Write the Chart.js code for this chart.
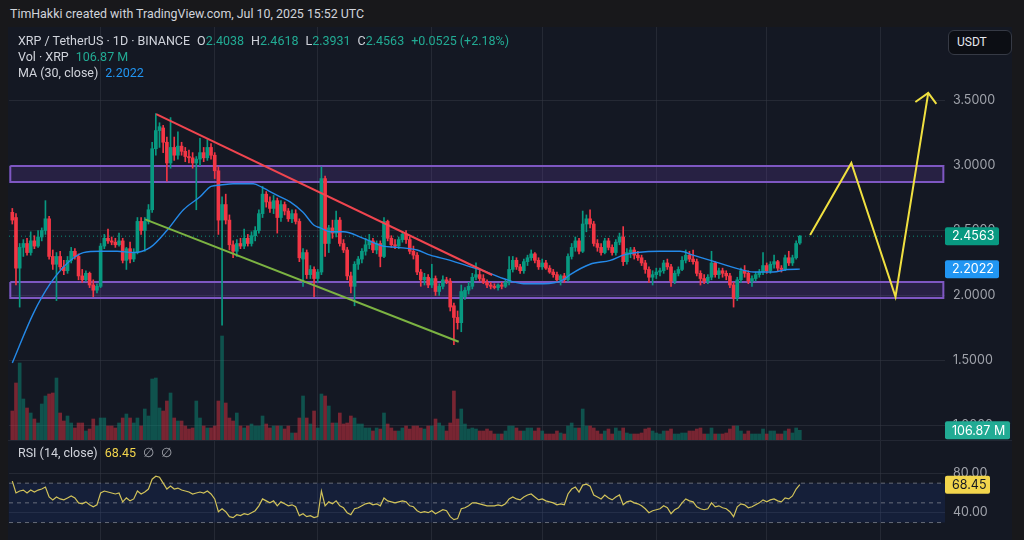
<!DOCTYPE html>
<html><head><meta charset="utf-8">
<script src="https://cdn.jsdelivr.net/npm/chart.js@4.4.1/dist/chart.umd.min.js"></script>
<style>
html,body{margin:0;padding:0;background:#18181b;width:1024px;height:540px;overflow:hidden;font-family:Roboto,'Noto Sans',sans-serif;}
#title{position:absolute;left:10px;top:6px;font-size:12.4px;color:#d1d4dc;white-space:pre;}
#frame{position:absolute;left:8px;top:27px;width:1004px;height:513px;background:#141823;}
#pc{position:absolute;left:8px;top:27px;}
#rc{position:absolute;left:8px;top:441px;}
#sep{position:absolute;left:8px;top:440px;width:1004px;height:1px;background:#232733;}
.leg{position:absolute;left:18px;font-size:12.5px;color:#d1d4dc;white-space:pre;line-height:16px;}
.g{color:#22ab94;}
.b{color:#2196f3;}
.y{color:#f2d54c;}
.sp{margin-left:7px;}
#usdt{position:absolute;left:948px;top:30px;width:54px;height:23px;border:1px solid #363a45;border-radius:6px;background:#0c0e14;color:#e6e8ee;font-size:12px;line-height:23px;padding-left:8px;}
</style>
</head><body>
<div id="title">TimHakki created with TradingView.com, Jul 10, 2025 15:52 UTC</div>
<div id="frame"></div>
<canvas id="pc" width="1004" height="414"></canvas>
<canvas id="rc" width="1004" height="99"></canvas>
<div id="sep"></div>
<div class="leg" id="l1" style="top:33px"></div>
<div class="leg" id="l2" style="top:49px"></div>
<div class="leg" id="l3" style="top:65px"></div>
<div class="leg" id="l4" style="top:445px"></div>
<div id="usdt">USDT</div>
<script>
// ---------- DATA ----------
const opens = [2.64,2.60,2.21,2.37,2.40,2.33,2.42,2.38,2.45,2.50,
2.59,2.30,2.24,2.30,2.22,2.19,2.27,2.34,2.30,2.15,
2.12,2.17,2.08,2.04,2.07,2.38,2.44,2.42,2.41,2.39,
2.42,2.27,2.36,2.28,2.33,2.57,2.50,2.57,2.66,3.13,
3.27,3.29,3.18,3.02,3.14,3.08,3.15,3.11,3.07,3.06,
3.02,3.05,3.10,3.06,3.14,3.08,2.96,2.58,2.70,2.58,
2.39,2.34,2.40,2.38,2.44,2.40,2.46,2.50,2.63,2.78,
2.72,2.67,2.73,2.60,2.70,2.65,2.59,2.63,2.57,2.28,
2.33,2.16,2.20,2.13,2.18,2.90,2.40,2.52,2.48,2.58,
2.40,2.35,2.15,2.07,2.24,2.28,2.34,2.39,2.42,2.35,
2.40,2.30,2.57,2.44,2.39,2.38,2.43,2.47,2.43,2.34,
2.31,2.18,2.12,2.14,2.08,2.13,2.03,2.07,2.12,2.11,
1.92,1.83,1.79,1.99,2.04,2.07,2.14,2.16,2.13,2.10,
2.08,2.07,2.06,2.08,2.07,2.10,2.20,2.27,2.22,2.19,
2.26,2.29,2.32,2.27,2.22,2.25,2.21,2.18,2.16,2.12,
2.15,2.12,2.30,2.37,2.42,2.34,2.55,2.59,2.55,2.40,
2.37,2.33,2.42,2.37,2.33,2.41,2.45,2.26,2.33,2.35,
2.31,2.29,2.25,2.20,2.14,2.16,2.18,2.19,2.25,2.22,
2.11,2.17,2.20,2.27,2.31,2.28,2.26,2.17,2.13,2.11,
2.14,2.25,2.16,2.19,2.17,2.15,2.08,1.98,2.12,2.19,
2.17,2.11,2.13,2.16,2.18,2.23,2.19,2.24,2.26,2.21,
2.20,2.29,2.25,2.29,2.4038];
const highs = [2.67,2.63,2.40,2.43,2.44,2.49,2.46,2.50,2.52,2.73,
2.61,2.35,2.33,2.34,2.27,2.30,2.37,2.36,2.32,2.20,
2.19,2.18,2.12,2.09,2.40,2.47,2.51,2.45,2.44,2.48,
2.44,2.37,2.41,2.36,2.60,2.60,2.60,2.70,3.18,3.40,
3.33,3.31,3.22,3.37,3.22,3.26,3.18,3.14,3.12,3.10,
3.07,3.21,3.14,3.20,3.17,3.10,2.99,2.76,2.78,2.62,
2.42,2.43,2.44,2.51,2.47,2.49,2.53,2.66,2.84,2.80,
2.76,2.77,2.75,2.73,2.72,2.67,2.66,2.66,2.59,2.36,
2.35,2.23,2.22,2.20,2.99,2.92,2.54,2.58,2.65,2.60,
2.43,2.37,2.18,2.26,2.30,2.36,2.44,2.47,2.44,2.42,
2.42,2.60,2.58,2.46,2.43,2.45,2.49,2.50,2.45,2.38,
2.33,2.20,2.17,2.16,2.24,2.15,2.09,2.15,2.14,2.13,
1.94,1.88,2.08,2.06,2.10,2.17,2.25,2.20,2.16,2.12,
2.10,2.09,2.09,2.10,2.12,2.30,2.30,2.29,2.24,2.28,
2.31,2.35,2.33,2.29,2.28,2.27,2.23,2.20,2.18,2.16,
2.17,2.32,2.40,2.45,2.44,2.65,2.62,2.66,2.57,2.43,
2.40,2.44,2.44,2.39,2.43,2.48,2.53,2.36,2.37,2.37,
2.34,2.31,2.27,2.22,2.19,2.21,2.21,2.27,2.28,2.24,
2.19,2.22,2.30,2.35,2.34,2.35,2.28,2.19,2.16,2.16,
2.34,2.26,2.21,2.21,2.19,2.17,2.10,2.14,2.21,2.23,
2.19,2.15,2.18,2.20,2.33,2.25,2.26,2.31,2.27,2.23,
2.31,2.34,2.31,2.42,2.4618];
const lows = [2.55,2.08,1.91,2.30,2.31,2.31,2.36,2.37,2.42,2.47,
2.28,2.20,1.96,2.20,2.16,2.17,2.25,2.28,2.12,2.10,
2.11,2.06,1.99,2.02,2.06,2.36,2.40,2.39,2.37,2.38,
2.25,2.20,2.25,2.26,2.32,2.47,2.34,2.55,2.64,3.08,
3.14,3.10,2.88,2.98,3.04,3.05,3.08,3.03,3.02,2.98,
2.66,3.00,3.03,3.04,3.05,2.90,2.47,1.77,2.55,2.35,
2.29,2.30,2.36,2.36,2.38,2.38,2.42,2.48,2.60,2.68,
2.64,2.63,2.48,2.57,2.62,2.57,2.56,2.55,2.26,2.07,
2.13,2.13,1.99,2.10,2.16,2.30,2.33,2.44,2.45,2.38,
2.33,2.12,2.02,1.92,2.20,2.25,2.31,2.36,2.33,2.32,
2.22,2.29,2.42,2.37,2.36,2.36,2.41,2.40,2.32,2.28,
2.16,2.07,2.08,2.06,2.06,2.00,2.00,2.05,2.09,1.88,
1.62,1.74,1.72,1.97,2.01,2.05,2.12,2.11,2.09,2.06,
2.05,2.05,2.04,2.05,2.06,2.08,2.18,2.20,2.17,2.17,
2.23,2.27,2.25,2.20,2.20,2.20,2.17,2.14,2.10,2.08,
2.10,2.11,2.28,2.34,2.32,2.33,2.49,2.52,2.38,2.34,
2.31,2.32,2.35,2.31,2.31,2.39,2.23,2.24,2.29,2.28,
2.27,2.23,2.17,2.10,2.08,2.13,2.15,2.17,2.20,2.07,
2.09,2.15,2.19,2.25,2.26,2.24,2.15,2.08,2.09,2.09,
2.12,2.14,2.13,2.14,2.12,2.06,1.91,1.96,2.10,2.14,
2.09,2.07,2.11,2.14,2.16,2.17,2.17,2.21,2.19,2.18,
2.19,2.23,2.23,2.28,2.3931];
const closes = [2.58,2.21,2.37,2.40,2.33,2.42,2.38,2.45,2.50,2.59,
2.30,2.24,2.30,2.22,2.19,2.27,2.34,2.30,2.15,2.12,
2.17,2.08,2.04,2.07,2.38,2.44,2.42,2.41,2.39,2.42,
2.27,2.36,2.28,2.33,2.57,2.50,2.57,2.66,3.13,3.27,
3.30,3.18,3.02,3.14,3.08,3.15,3.11,3.07,3.06,3.02,
3.05,3.10,3.06,3.14,3.08,2.96,2.58,2.70,2.58,2.39,
2.34,2.40,2.38,2.44,2.40,2.46,2.50,2.63,2.78,2.72,
2.67,2.73,2.60,2.70,2.65,2.59,2.63,2.57,2.29,2.33,
2.16,2.20,2.13,2.18,2.90,2.40,2.52,2.48,2.58,2.40,
2.35,2.15,2.07,2.24,2.28,2.34,2.39,2.42,2.35,2.40,
2.30,2.57,2.44,2.39,2.38,2.43,2.47,2.43,2.34,2.31,
2.18,2.12,2.14,2.08,2.13,2.03,2.07,2.12,2.11,1.91,
1.83,1.79,2.03,2.04,2.07,2.14,2.16,2.13,2.10,2.08,
2.07,2.06,2.08,2.07,2.10,2.20,2.27,2.22,2.19,2.26,
2.29,2.32,2.27,2.22,2.25,2.21,2.18,2.16,2.12,2.15,
2.12,2.30,2.37,2.42,2.34,2.55,2.59,2.55,2.40,2.37,
2.33,2.42,2.37,2.33,2.41,2.45,2.26,2.33,2.35,2.31,
2.29,2.25,2.20,2.14,2.16,2.18,2.19,2.25,2.22,2.11,
2.17,2.20,2.27,2.31,2.28,2.26,2.17,2.13,2.11,2.14,
2.25,2.16,2.19,2.17,2.15,2.08,1.98,2.12,2.19,2.17,
2.11,2.13,2.16,2.18,2.23,2.19,2.24,2.26,2.21,2.20,
2.29,2.25,2.29,2.40,2.4563];
// volume in millions of XRP
const volumes = [300,580,780,420,330,280,220,180,370,450,
470,480,630,280,200,250,180,130,180,180,
100,120,220,150,230,230,150,150,130,180,
230,270,230,180,230,150,320,250,620,630,
330,300,400,480,230,200,200,150,120,130,
400,230,150,130,130,150,400,1050,380,230,
200,280,150,130,150,170,150,150,250,170,
130,150,150,150,120,150,80,80,230,450,
230,170,300,130,470,450,350,180,180,280,
170,180,250,230,170,170,130,130,100,130,
120,280,170,130,100,100,130,150,120,150,
150,130,120,150,150,220,180,150,100,180,
500,220,320,170,120,130,120,100,100,120,
100,70,70,70,100,150,150,130,100,100,
130,130,100,130,100,70,70,70,100,80,
70,150,180,130,130,320,150,150,130,100,
70,100,120,70,130,100,130,80,70,70,
70,80,120,130,100,80,70,100,100,120,
70,70,80,80,100,100,120,130,70,70,
130,70,70,70,80,120,150,150,100,70,
100,70,70,70,120,70,100,100,70,70,
100,120,80,130,106.87];
const rsi = [72,60,62,63,60,63,61,63,64,66,
56,53,56,54,53,55,57,55,50,49,
51,48,46,48,60,62,61,60,59,60,
51,55,52,54,62,59,61,64,74,77,
76,70,64,67,64,65,63,62,61,59,
60,61,60,62,59,54,41,44,41,36,
35,38,37,39,38,40,42,47,54,52,
50,52,47,51,49,47,48,46,37,39,
36,37,35,36,62,47,51,49,52,47,
45,40,38,44,45,47,49,50,48,49,
47,55,52,51,50,51,52,51,47,46,
42,40,41,40,42,39,41,43,42,36,
33,34,44,45,47,50,50,49,48,47,
47,47,48,47,49,54,56,54,53,56,
58,59,56,53,54,52,51,50,48,49,
48,59,64,66,61,68,69,67,58,56,
54,58,55,53,56,58,48,51,52,50,
49,47,44,40,42,43,44,47,45,39,
43,45,50,54,52,51,46,44,43,44,
50,46,47,45,44,41,36,46,49,48,
45,46,48,50,53,51,53,54,52,51,
55,54,57,64,68.45];
// MA(30, close) read at candle positions
const maIdx = [0,5.7,10.3,15,19.3,24,28.5,33,37.5,42,46.5,51,54,56.5,60,65.5,68,72,75.5,79,82,83.7,86.4,90,95.4,100.8,104.6,110,113.6,119,124.5,129,133.4,138.9,144.3,149.7,151.6,157,162.5,166,169.8,176,181.5,185,189.7,194.3,197.8,201.4,206.8,210.6,214];
const maVals = [1.48,1.86,2.09,2.25,2.33,2.34,2.34,2.33,2.37,2.50,2.66,2.76,2.84,2.85,2.86,2.86,2.83,2.77,2.72,2.64,2.54,2.52,2.49,2.49,2.44,2.38,2.37,2.35,2.31,2.27,2.22,2.18,2.13,2.09,2.09,2.12,2.16,2.24,2.27,2.31,2.33,2.34,2.34,2.31,2.27,2.23,2.20,2.18,2.18,2.20,2.2022];
// drawings (candle index, price)
const zoneX = [-0.55, 253.0];
const zoneUpper = [2.874, 2.997];
const zoneLower = [1.98, 2.103];
const redLineX = [39.1, 130.4], redLineY = [3.397, 2.157];
const greenLineX = [36.1, 121.3], greenLineY = [2.586, 1.643];
const projX = [216.8, 228.0, 240.0, 248.9], projY = [2.465, 3.02, 1.99, 3.56];
const arrowX = [245.4, 248.9, 251.1], arrowY = [3.49, 3.56, 3.475];
// ticks
const priceTicks = [1.0, 1.5, 2.0, 2.5, 3.0, 3.5];
const rsiTicks = [40, 80];
const rsiLevels = [70, 50, 30];
const monthStarts = [24, 55, 83, 114, 144, 175, 205, 236];
const change = 0.0525, changePct = 2.18;

// ---------- CHART ----------
Chart.defaults.font.family = 'Inter, "Noto Sans", "DejaVu Sans", sans-serif';
Chart.defaults.font.size = 12.5;
Chart.defaults.color = '#a0a3ab';
const UP = '#089981', DN = '#f23645';
const xMin = -0.9, xMax = 253.45;
const n = closes.length;
const last = n - 1;
const idx = closes.map((_, i) => i);
const isUp = idx.map(i => closes[i] >= opens[i]);
const GRID = 'rgba(54,58,69,0.5)';

const zeroPad = s => { s.paddingTop = 0; s.paddingBottom = 0; s.paddingLeft = 0; s.paddingRight = 0; };
const xAxis = {
  type: 'linear', min: xMin, max: xMax, offset: false,
  grid: { color: GRID, drawTicks: false, offset: false },
  border: { display: false },
  ticks: { display: false },
  afterBuildTicks: s => { s.ticks = monthStarts.map(v => ({ value: v })); },
  afterFit: s => { s.height = 0; zeroPad(s); }
};

function tag(ctx, x, yc, w, text, bg, fg) {
  ctx.save();
  ctx.fillStyle = bg;
  ctx.beginPath();
  if (ctx.roundRect) ctx.roundRect(x, yc - 9, w, 18, 2); else ctx.rect(x, yc - 9, w, 18);
  ctx.fill();
  ctx.fillStyle = fg;
  ctx.font = '12.5px Inter, "Noto Sans", sans-serif';
  ctx.textBaseline = 'middle';
  ctx.textAlign = 'left';
  ctx.fillText(text, x + 7, yc + 0.5);
  ctx.restore();
}

const line = (xs, ys, color, w, extra) => Object.assign({
  type: 'line', data: xs.map((x, k) => ({ x, y: ys[k] })), borderColor: color, borderWidth: w,
  pointRadius: 0, fill: false, tension: 0
}, extra || {});

const zone = z => line([zoneX[0], zoneX[1], zoneX[1], zoneX[0], zoneX[0]], [z[1], z[1], z[0], z[0], z[1]],
  '#7e57c2', 2, { fill: 'shape', backgroundColor: 'rgba(110,70,180,0.22)', borderJoinStyle: 'miter', order: 10 });

new Chart(document.getElementById('pc'), {
  type: 'bar',
  data: { datasets: [
    zone(zoneUpper),
    zone(zoneLower),
    { type: 'bar', yAxisID: 'yv', data: idx.map(i => ({ x: i, y: volumes[i] })),
      backgroundColor: idx.map(i => isUp[i] ? 'rgba(8,153,129,0.45)' : 'rgba(242,54,69,0.45)'),
      barThickness: 3, grouped: false, order: 9 },
    line([xMin, xMax], [closes[last], closes[last]], 'rgba(8,153,129,0.9)', 1, { borderDash: [1, 3], order: 8 }),
    { type: 'bar', data: idx.map(i => ({ x: i, y: [lows[i], highs[i]] })),
      backgroundColor: idx.map(i => isUp[i] ? UP : DN), barThickness: 1, grouped: false, order: 6 },
    { type: 'bar', data: idx.map(i => ({ x: i, y: [opens[i], closes[i]] })),
      backgroundColor: idx.map(i => isUp[i] ? UP : DN), barThickness: 3, minBarLength: 1, grouped: false, order: 5 },
    line(maIdx, maVals, '#2489e8', 1.4, { cubicInterpolationMode: 'monotone', order: 4 }),
    line(redLineX, redLineY, '#f0454f', 2, { order: 3 }),
    line(greenLineX, greenLineY, '#7cb342', 2, { order: 3 }),
    line(projX, projY, '#f0e040', 2, { order: 2 }),
    line(arrowX, arrowY, '#f0e040', 2, { order: 2 })
  ]},
  options: {
    responsive: false, animation: false, events: [],
    layout: { padding: { left: 1, right: 0, top: 0, bottom: 0 } },
    plugins: { legend: { display: false }, tooltip: { enabled: false } },
    scales: {
      x: xAxis,
      y: {
        position: 'right', min: 0.8783, max: 4.0678,
        grid: { color: GRID, drawTicks: false },
        border: { display: false },
        ticks: { padding: 8, color: '#a0a3ab', callback: v => Number(v).toFixed(4) },
        afterBuildTicks: s => { s.ticks = priceTicks.map(v => ({ value: v })); },
        afterFit: s => { s.width = 67; zeroPad(s); }
      },
      yv: { display: false, min: 0, max: 4140 }
    }
  },
  plugins: [{
    id: 'tags',
    afterDraw(c) {
      const y = c.scales.y, yv = c.scales.yv, ctx = c.ctx, x0 = c.chartArea.right;
      tag(ctx, x0, y.getPixelForValue(closes[last]), 54, closes[last].toFixed(4), '#089981', '#ffffff');
      tag(ctx, x0, y.getPixelForValue(maVals[maVals.length - 1]), 54, maVals[maVals.length - 1].toFixed(4), '#2196f3', '#ffffff');
      tag(ctx, x0, yv.getPixelForValue(volumes[last]), 65, volumes[last].toFixed(2) + ' M', '#22ab94', '#ffffff');
    }
  }]
});

new Chart(document.getElementById('rc'), {
  type: 'line',
  data: { datasets: [
    line([xMin, xMax, xMax, xMin, xMin], [70, 70, 30, 30, 70], 'rgba(0,0,0,0)', 0,
      { fill: 'shape', backgroundColor: 'rgba(41,98,255,0.1)', order: 6 }),
    ...rsiLevels.map(v => line([xMin, xMax], [v, v], 'rgba(130,133,144,0.75)', 1, { borderDash: [4, 4], order: 4 })),
    line(idx, rsi, '#d2c35a', 1.2, { order: 1 })
  ]},
  options: {
    responsive: false, animation: false, events: [],
    layout: { padding: { left: 1, right: 0, top: 0, bottom: 0 } },
    plugins: { legend: { display: false }, tooltip: { enabled: false } },
    scales: {
      x: xAxis,
      y: {
        position: 'right', min: 12.28, max: 112.8,
        grid: { color: GRID, drawTicks: false },
        border: { display: false },
        ticks: { padding: 8, color: '#a0a3ab', callback: v => Number(v).toFixed(2) },
        afterBuildTicks: s => { s.ticks = rsiTicks.map(v => ({ value: v })); },
        afterFit: s => { s.width = 67; zeroPad(s); }
      }
    }
  },
  plugins: [{
    id: 'rsitag',
    afterDraw(c) {
      tag(c.ctx, c.chartArea.right, c.scales.y.getPixelForValue(rsi[last]), 45, rsi[last].toFixed(2), '#f2d54c', '#131722');
    }
  }]
});

// ---------- LEGEND TEXT ----------
const f4 = v => v.toFixed(4);
document.getElementById('l1').innerHTML =
  'XRP / TetherUS · 1D · BINANCE' +
  '<span class="sp">O</span><span class="g">' + f4(opens[last]) + '</span>' +
  '<span class="sp">H</span><span class="g">' + f4(highs[last]) + '</span>' +
  '<span class="sp">L</span><span class="g">' + f4(lows[last]) + '</span>' +
  '<span class="sp">C</span><span class="g">' + f4(closes[last]) + '</span>' +
  '<span class="sp g">+' + f4(change) + ' (+' + changePct.toFixed(2) + '%)</span>';
document.getElementById('l2').innerHTML = 'Vol · XRP<span class="sp g">' + volumes[last].toFixed(2) + ' M</span>';
document.getElementById('l3').innerHTML = 'MA (30, close)<span class="sp b">' + f4(maVals[maVals.length - 1]) + '</span>';
document.getElementById('l4').innerHTML = 'RSI (14, close)<span class="sp y">' + rsi[last].toFixed(2) + '</span><span class="sp" style="color:#a0a3ab">∅</span><span class="sp" style="color:#a0a3ab">∅</span>';
</script>
</body></html>
